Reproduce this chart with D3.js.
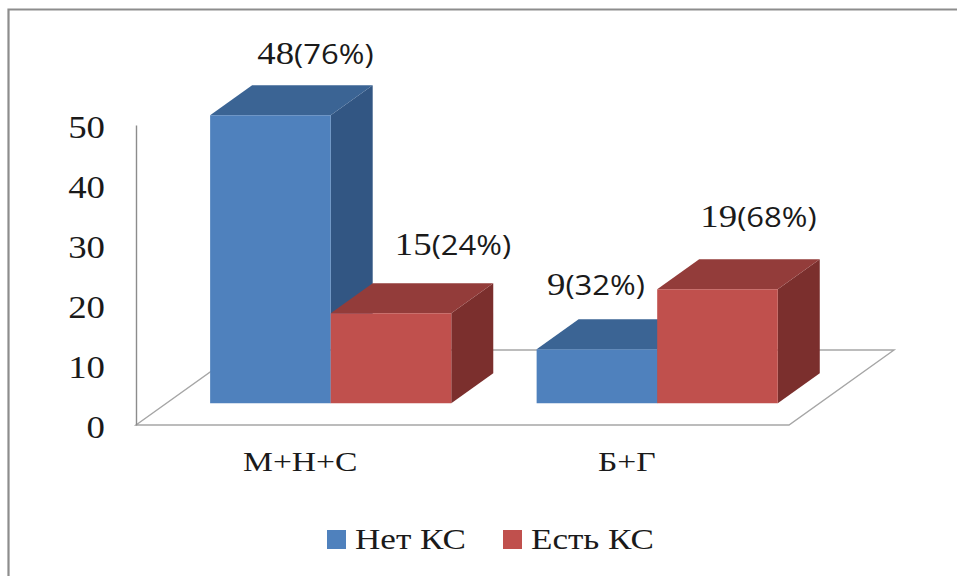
<!DOCTYPE html>
<html lang="ru">
<head>
<meta charset="utf-8">
<script src="https://cdn.jsdelivr.net/npm/d3@7"></script>
<style>
  html, body { margin: 0; padding: 0; background: #fff; }
  svg { display: block; }
  .serif { font-family: "Liberation Serif", "DejaVu Serif", "Times New Roman", serif; }
  .sans { font-family: "Open Sans", "Noto Sans", "Liberation Sans", sans-serif; }
</style>
</head>
<body>
<svg id="chart" width="957" height="576"></svg>
<script>
// Chart data
const categories = ["М+Н+С", "Б+Г"];
const seriesNames = ["Нет КС", "Есть КС"];
const netKS = [48, 9];
const estKS = [15, 19];
const netPct = [76, 32];
const estPct = [24, 68];
const yTickValues = [0, 10, 20, 30, 40, 50];

// Layout
const W = 957, H = 576;
const axisX = 136;
const DEPTH = { dx: 105, dy: -75 };   // screen offset for the full floor depth
const barZ0 = 0.29, barZ1 = 0.69;     // bars occupy this slice of the depth
const STRETCH = 1.15;                 // horizontal text stretch

const colors = [
  { front: "#4f81bd", top: "#3b6494", side: "#325683" },
  { front: "#c0504d", top: "#933c3a", side: "#7b2f2d" }
];

// Label nudges (dx, dy) for each bar label, in series-major order
const labelNudge = [[3, 4], [-43, 1], [20, -3], [-1, -7]];

const svg = d3.select("#chart");

const x = d3.scaleBand().domain(categories).range([axisX + 1, 790]).paddingInner(0).paddingOuter(0);
const xs = d3.scaleBand().domain(seriesNames).range([0, x.bandwidth()]).paddingInner(0).paddingOuter(0.354);
const y = d3.scaleLinear().domain([0, 50]).range([425, 125]);

// projection of (front x, value, depth z) into screen coordinates
const P = (fx, v, z) => [fx + z * DEPTH.dx, y(v) + z * DEPTH.dy];

// outer frame (left and top edges)
svg.append("path")
  .attr("d", `M8.5,${H} L8.5,9.5 L${W},9.5`)
  .attr("fill", "none").attr("stroke", "#8d8d8d").attr("stroke-width", 2.2);

// floor
const floorX0 = axisX, floorX1 = 789;
const floorPts = [P(floorX0, 0, 0), P(floorX1, 0, 0), P(floorX1, 0, 1), P(floorX0, 0, 1)];
svg.append("polygon")
  .attr("points", floorPts.map(p => p.join(",")).join(" "))
  .attr("fill", "#fff").attr("stroke", "#a6a6a6").attr("stroke-width", 1.4);

// value axis
const yAxis = d3.axisLeft(y).tickValues(yTickValues).tickSize(0).tickSizeOuter(0).tickPadding(0);
const gAxis = svg.append("g").attr("transform", `translate(${axisX},0)`).call(yAxis)
  .attr("font-family", null).attr("font-size", null);
gAxis.select(".domain").attr("stroke", "#8c8c8c").attr("stroke-width", 1.4);
gAxis.selectAll(".tick text")
  .attr("class", "serif")
  .attr("x", null).attr("dy", null)
  .attr("transform", `translate(-31,12) scale(${STRETCH},1)`)
  .attr("text-anchor", "end")
  .attr("font-size", 32)
  .attr("fill", "#1a1a1a");

// bars
const seriesValues = [netKS, estKS];
const seriesPct = [netPct, estPct];
const bars = [];
categories.forEach((c, ci) => {
  seriesNames.forEach((s, si) => {
    bars.push({ cat: c, ci, series: s, si, value: seriesValues[si][ci], pct: seriesPct[si][ci] });
  });
});

const pts = a => a.map(p => p.join(",")).join(" ");
const gBars = svg.append("g");
bars.forEach(b => {
  const fx0 = x(b.cat) + xs(b.series), fx1 = fx0 + xs.bandwidth();
  const c = colors[b.si];
  const g = gBars.append("g");
  // right side
  g.append("polygon").attr("fill", c.side)
    .attr("points", pts([P(fx1, 0, barZ0), P(fx1, 0, barZ1), P(fx1, b.value, barZ1), P(fx1, b.value, barZ0)]));
  // top
  g.append("polygon").attr("fill", c.top)
    .attr("points", pts([P(fx0, b.value, barZ0), P(fx1, b.value, barZ0), P(fx1, b.value, barZ1), P(fx0, b.value, barZ1)]));
  // front
  g.append("polygon").attr("fill", c.front)
    .attr("points", pts([P(fx0, 0, barZ0), P(fx1, 0, barZ0), P(fx1, b.value, barZ0), P(fx0, b.value, barZ0)]));
  b.anchor = P((fx0 + fx1) / 2, b.value, barZ1);
});

// value labels: count in serif, share in sans
bars.forEach(b => {
  const k = b.si * categories.length + b.ci;
  const [nx, ny] = labelNudge[k];
  const t = svg.append("text")
    .attr("transform", `translate(${b.anchor[0] + nx},${b.anchor[1] - 25 + ny}) scale(${STRETCH},1)`)
    .attr("text-anchor", "middle")
    .attr("fill", "#1a1a1a");
  t.append("tspan").attr("class", "serif").attr("font-size", 32).text(b.value);
  t.append("tspan").attr("class", "sans").attr("font-size", 27).text(`(${b.pct}%)`);
});

// category labels
svg.append("g").selectAll("text").data(categories).join("text")
  .attr("class", "serif")
  .attr("transform", d => `translate(${x(d) + x.bandwidth() / 2},471) scale(1.2,1)`)
  .attr("text-anchor", "middle")
  .attr("font-size", 28)
  .attr("fill", "#1a1a1a")
  .text(d => d);

// legend
const legendItems = [
  { name: seriesNames[0], color: colors[0].front, x: 327 },
  { name: seriesNames[1], color: colors[1].front, x: 503 }
];
const gLeg = svg.append("g");
legendItems.forEach(it => {
  gLeg.append("rect").attr("x", it.x).attr("y", 530).attr("width", 19).attr("height", 19).attr("fill", it.color);
  gLeg.append("text")
    .attr("class", "serif")
    .attr("transform", `translate(${it.x + 28},549) scale(1.17,1)`)
    .attr("font-size", 30)
    .attr("fill", "#1a1a1a")
    .text(it.name);
});
</script>
</body>
</html>
